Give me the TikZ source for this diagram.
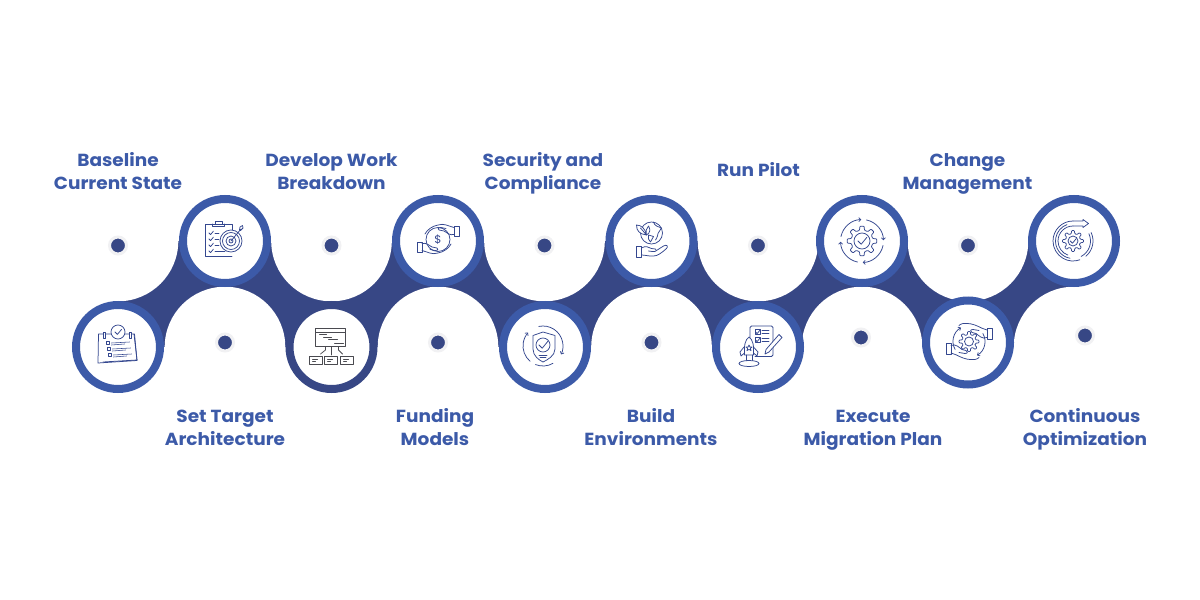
\documentclass[tikz,border=0pt]{standalone}
\usepackage{fontspec}
\setmainfont[FakeStretch=1.058]{Poppins}
\usetikzlibrary{arrows.meta}
\definecolor{ring}{HTML}{3C5AA8}
\definecolor{band}{HTML}{374785}
\definecolor{halo}{HTML}{F1F1F3}
\definecolor{icn}{HTML}{34478F}
\definecolor{icg}{HTML}{4A4A50}
\tikzset{
  ringnode/.style={circle,draw=ring,fill=white,line width=8pt,minimum size=84pt,inner sep=0pt},
  darkring/.style={ringnode,draw=band},
  dotnode/.style={circle,fill=band,draw=halo,line width=3pt,minimum size=17pt,inner sep=0pt},
  lab/.style={text=ring,align=center,font=\fontsize{17.5}{23}\selectfont\bfseries,inner sep=0pt},
  ic/.style={draw=icn,line width=.75pt,line cap=round,line join=round},
  icthin/.style={ic,line width=.55pt},
  tip/.style={-{Straight Barb[length=2pt,width=4pt]}},
}
\newcommand\icgear[3]{\draw[ic,rounded corners=.7pt] ({.7*360/#1}:#2)
  \foreach \k in {1,...,#1}{ -- ({(\k-.3)*360/#1}:#2) -- ({(\k-.17)*360/#1}:#3) -- ({(\k+.17)*360/#1}:#3) -- ({(\k+.3)*360/#1}:#2) } -- cycle;}
\newcommand\ichk[3]{\draw[ic] (#1-.5*#3,#2) -- (#1-.1*#3,#2+.4*#3) -- (#1+.6*#3,#2-.45*#3);}
\newcommand\ichandA{%
  \draw[ic] (-21,1) rectangle (-16,11);
  \draw[ic] (-16,2.5) .. controls (-12,1.5) and (-9,4) .. (-6,6) -- (-1,7) .. controls (.5,8) and (.5,9.5) .. (-3,9.5) -- (-8,8.5);
  \draw[ic] (-16,9.5) .. controls (-10,11) and (-6,14) .. (0,12) .. controls (6,11) and (11,7) .. (13,3);}
\begin{document}
\begin{tikzpicture}[x=1pt,y=1pt,yscale=-1]
\useasboundingbox (0,0) rectangle (1200,600);
\fill[white] (0,0) rectangle (1200,600);
% band between the two rows, cut by white discs
\fill[band] (118,241) rectangle (1074,347);
\foreach \x in {118,331.5,544.5,758,968} \fill[white] (\x,241) circle[radius=60.3];
\foreach \x in {225,438,651.5,862,1074} \fill[white] (\x,347) circle[radius=60.3];
% rings
\node[ringnode] (c1) at (118,347) {};
\node[ringnode] (c2) at (225,241) {};
\node[darkring] (c3) at (331.5,347) {};
\node[ringnode] (c4) at (438,241) {};
\node[ringnode] (c5) at (545,347) {};
\node[ringnode] (c6) at (651.5,241) {};
\node[ringnode] (c7) at (758,347) {};
\node[ringnode] (c8) at (862,241) {};
\node[ringnode] (c9) at (968,342.5) {};
\node[ringnode] (c10) at (1074,241) {};
% dots
\node[dotnode] (d1) at (118,245.5) {};
\node[dotnode] (d2) at (225,342.5) {};
\node[dotnode] (d3) at (331.5,245.5) {};
\node[dotnode] (d4) at (438,342.5) {};
\node[dotnode] (d5) at (544.5,245.5) {};
\node[dotnode] (d6) at (651.5,342.5) {};
\node[dotnode] (d7) at (758,245.5) {};
\node[dotnode] (d8) at (861,337.5) {};
\node[dotnode] (d9) at (968,245.5) {};
\node[dotnode] (d10) at (1085,335.5) {};
% labels
\node[lab] (t1) at (118,173.5) {\strut Baseline\\Current State\strut};
\node[lab] (t2) at (225,429.5) {\strut Set Target\\Architecture\strut};
\node[lab] (t3) at (331.5,173.5) {\strut Develop Work\\Breakdown\strut};
\node[lab] (t4) at (435,429.5) {\strut Funding\\Models\strut};
\node[lab] (t5) at (543,173.5) {\strut Security and\\Compliance\strut};
\node[lab] (t6) at (651,429.5) {\strut Build\\Environments\strut};
\node[lab] (t7) at (758.5,172) {\strut Run Pilot};
\node[lab] (t8) at (873,429.5) {\strut Execute\\Migration Plan\strut};
\node[lab] (t9) at (967.5,173.5) {\strut Change\\Management\strut};
\node[lab] (t10) at (1085,429.5) {\strut Continuous\\Optimization\strut};
% icon 1: checklist pages
\begin{scope}[shift={(c1.center)}]
  \draw[ic] (-19.5,-13) -- (-20,16) -- (19,13.5) -- (16.5,-13);
  \draw[ic] (-19,-13) -- (16,-13) -- (19,13) -- (-15,15);
  \draw[ic,fill=white] (0,-15) circle[radius=7];
  \ichk{0}{-15}{6}
  \foreach \x in {-14,12} \draw[ic,fill=white] (\x-1,-15) rectangle (\x+1,-9);
  \foreach \x/\y in {-10.5/-4,-9.5/2,-8.5/8} {
    \draw[icthin] (\x-1.7,\y-1.7) rectangle (\x+1.7,\y+1.7);
    \draw[icthin] (\x+4,\y) -- (\x+22,\y-1);
    \draw[icthin] (\x+4,\y+2) -- (\x+17,\y+1);}
\end{scope}
% icon 2: clipboard and target
\begin{scope}[shift={(c2.center)}]
  \draw[ic] (7,15.5) -- (-20,15.5) -- (-20,-17) -- (7,-17) -- (7,-11);
  \draw[ic] (-12.5,-17) -- (-12.5,-15) -- (-.5,-15) -- (-.5,-17);
  \draw[ic] (-10,-20) rectangle (-3,-17);
  \foreach \y in {-8,-2,4,10} {\ichk{-14}{\y}{4}}
  \foreach \y in {-8,-2,4} \draw[ic] (-10,\y) -- (-6,\y);
  \draw[ic] (-10,10) -- (0,10);
  \foreach \r in {11,8.5,5,2} \draw[ic,fill=white] (6,0) circle[radius=\r];
  \draw[ic] (6,0) -- (16,-12);
  \draw[ic] (14.5,-11) -- (15,-14) -- (17.5,-15.5) -- (18,-13) -- (15.5,-10.5) -- cycle;
\end{scope}
% icon 3: board and boxes
\begin{scope}[shift={(c3.center)},ic/.append style={draw=icg}]
  \draw[ic] (-16,-19) rectangle (14,-1);
  \draw[ic] (-16,-15) -- (14,-15);
  \draw[ic,line width=1pt] (-12,-12.5) -- (-5,-12.5) (-8,-10) -- (0,-10) (-3,-7.5) -- (6,-7.5) (3,-4) -- (12,-4);
  \draw[ic] (0,0) -- (0,8) (-6,0) -- (-6,3) -- (-11,7) (7,0) -- (7,3) -- (11,7);
  \foreach \x in {-22,-7,9} {
    \draw[ic] (\x,9.5) rectangle (\x+12.5,17);
    \draw[ic,line width=1pt] (\x+3,12) -- (\x+8,12) (\x+3,14.5) -- (\x+6,14.5);}
\end{scope}
% icon 4: hands and coin
\begin{scope}[shift={(c4.center)}]
  \draw[ic] (0,-1.5) circle[radius=12];
  \node[text=icn,font=\fontsize{11}{11}\selectfont,inner sep=0pt] (n4) at (0,-1.5) {\$};
  \ichandA
  \begin{scope}[rotate around={180:(0,-2)}]\ichandA\end{scope}
\end{scope}
% icon 5: shield
\begin{scope}[shift={(c5.center)}]
  \draw[ic] (-2,-15) -- (-12,-11.5) -- (-12,2) .. controls (-12,9) and (-6,13) .. (-2,15) .. controls (2,13) and (10,9) .. (10,2) -- (10,-11.5) -- cycle;
  \draw[ic] (-2,-2) circle[radius=7];
  \ichk{-2}{-2}{8}
  \draw[ic] (-6,8) -- (2,8) (-5,10) -- (1,10);
  \draw[ic,tip] (-2,-1) ++(130:20) arc[start angle=130,end angle=222,radius=20];
  \draw[ic,tip] (-2,-1) ++(258:20) arc[start angle=258,end angle=385,radius=20];
  \draw[ic] (-2,-1) ++(60:20) arc[start angle=60,end angle=112,radius=20];
\end{scope}
% icon 6: globe in hand
\begin{scope}[shift={(c6.center)}]
  \draw[ic] (0,-8) circle[radius=11];
  \draw[ic] (2,-19) .. controls (3,-15) and (7,-14) .. (10,-13) .. controls (9,-10) and (6,-9) .. (6,-5) .. controls (6,-3) and (4,-2) .. (4,-1);
  \draw[ic] (-3,-6) -- (2,-4.5) -- (-1,1) -- (-3,-2) -- cycle;
  \draw[ic,fill=white] (-5,-6) .. controls (-12,-7) and (-15,-10) .. (-15,-16) .. controls (-10,-16) and (-6,-12) .. (-5,-6) -- (-11,-13);
  \draw[ic,fill=white] (-5,-6) .. controls (-6,-10) and (-5,-13) .. (-3,-15) .. controls (-1,-12) and (-1,-8) .. (-5,-6);
  \draw[ic] (-15,5) rectangle (-10,16);
  \draw[ic] (-10,7) .. controls (-6,4.5) and (-3,6) .. (0,7.5) -- (4,8) .. controls (6,9) and (5,11) .. (1,10.5) -- (-3,10);
  \draw[ic] (5,9.5) -- (12,5) .. controls (15.5,3) and (17,5.5) .. (15,7.5) .. controls (10,12) and (6,15) .. (2,15) .. controls (-2,15.5) and (-6,14) .. (-10,14);
\end{scope}
% icon 7: rocket and list
\begin{scope}[shift={(c7.center)}]
  \draw[ic,rounded corners=1.5pt] (-8,-4) -- (-8,-21) -- (15,-21) -- (15,9.5) -- (-3,9.5);
  \foreach \y in {-15,-7} {
    \draw[ic] (-3,\y-2.5) rectangle (2,\y+2.5);
    \ichk{-.5}{\y}{4}
    \draw[ic] (4,\y-1.5) -- (11,\y-1.5) (4,\y+1.5) -- (11,\y+1.5);}
  \draw[ic,fill=white] (21,-12.5) -- (24,-9.5) -- (11,5) -- (7,7) -- (8,2.5) -- cycle;
  \draw[ic,fill=white] (-9,-10) .. controls (-13,-7) and (-14,-2) .. (-13.5,8) -- (-4.5,8) .. controls (-4,-2) and (-5,-7) .. (-9,-10);
  \draw[ic] (-14,0) -- (-18,5) -- (-17,9) -- (-13.5,6) (-4.5,0) -- (0,5) -- (-1,9) -- (-4.5,6);
  \draw[ic] (-9,1) +(0,-3) -- +(.9,-1) -- +(3,-1) -- +(1.4,.5) -- +(2,2.6) -- +(0,1.4) -- +(-2,2.6) -- +(-1.4,.5) -- +(-3,-1) -- +(-.9,-1) -- cycle;
  \draw[ic] (-9,16.5) ellipse[x radius=10,y radius=3];
  \draw[ic] (-12,8) -- (-12,13.5) (-6,8) -- (-6,13.5);
\end{scope}
% icon 8: gear with four arrows
\begin{scope}[shift={(c8.center)}]
  \icgear{8}{11}{15}
  \draw[ic] (0,0) circle[radius=8];
  \ichk{0}{0}{8}
  \foreach \a in {0,90,180,270} \draw[ic,tip] (\a+12:21.5) arc[start angle=\a+12,end angle=\a+88,radius=21.5];
\end{scope}
% icon 9: hands and gear
\begin{scope}[shift={(c9.center)}]
  \begin{scope}[shift={(1,-1)}]
    \icgear{8}{7}{10}
    \draw[ic] (0,0) circle[radius=4.5];
    \draw[ic,tip] (150:16) arc[start angle=150,end angle=240,radius=16];
    \draw[ic,tip] (-30:16) arc[start angle=-30,end angle=60,radius=16];
  \end{scope}
  \draw[ic] (-22,1) rectangle (-17,12);
  \draw[ic] (-17,3) .. controls (-12,1) and (-9,5) .. (-6,7) -- (-2,8) .. controls (0,9) and (0,11) .. (-3,11) -- (-9,10);
  \draw[ic] (-17,10.5) .. controls (-10,12) and (-5,18) .. (7,17) .. controls (9,16.5) and (10,16) .. (11,15);
  \begin{scope}[rotate around={180:(1,-1)}]
    \draw[ic] (-22,1) rectangle (-17,12);
    \draw[ic] (-17,3) .. controls (-12,1) and (-9,5) .. (-6,7) -- (-2,8) .. controls (0,9) and (0,11) .. (-3,11) -- (-9,10);
    \draw[ic] (-17,10.5) .. controls (-10,12) and (-5,18) .. (7,17) .. controls (9,16.5) and (10,16) .. (11,15);
  \end{scope}
\end{scope}
% icon 10: gear with spiral arrow
\begin{scope}[shift={(c10.center)}]
  \begin{scope}[shift={(-1,0)}]
    \icgear{8}{7.5}{10.5}
    \draw[ic] (0,0) circle[radius=5];
    \ichk{0}{0}{5.5}
    \draw[ic] (0,-20) arc[start angle=270,end angle=70,radius=20];
    \draw[ic] (0,-15) arc[start angle=270,end angle=110,radius=15];
    \draw[ic] (62:17.5) arc[start angle=62,end angle=-25,radius=17.5] ;
    \draw[ic] (100:17.5) arc[start angle=100,end angle=250,radius=17.5];
    \draw[ic] (50:20) arc[start angle=50,end angle=-25,radius=20];
  \end{scope}
  \draw[ic] (-1,-20) -- (9,-20) -- (9,-21.5) -- (14.5,-17.5) -- (9,-13.5) -- (9,-15) -- (-1,-15);
\end{scope}
\end{tikzpicture}
\end{document}
